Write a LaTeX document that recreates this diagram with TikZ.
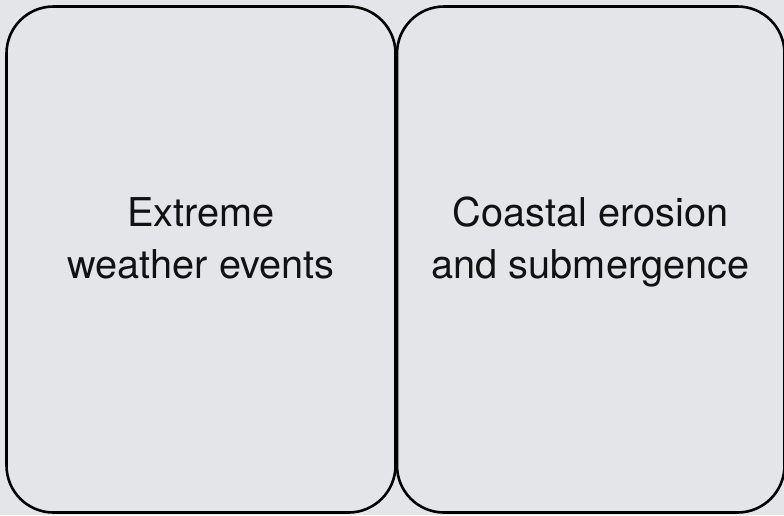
\documentclass[tikz,border=0pt]{standalone}
\usepackage{fontspec}
\setmainfont{TeX Gyre Heros}
\definecolor{bgc}{HTML}{E4E5E9}
\definecolor{txt}{HTML}{111111}
\begin{document}
\begin{tikzpicture}[x=1pt,y=-1pt,
  card/.style={draw=black,line width=2.6pt,rounded corners=47pt},
  lbl/.style={text=txt,align=center,font=\fontsize{39.7}{52}\selectfont,inner sep=0pt}]
\useasboundingbox (0,0) rectangle (784,515);
\clip (0,0) rectangle (784,515);
\fill[bgc] (0,0) rectangle (784,515);
\draw[card] (6.5,6.5) rectangle (395.5,512.5);
\draw[card] (397,6.5) rectangle (784.5,512.5);
\node[lbl,anchor=base] (a) at (201,278) {Extreme\\weather events};
\node[lbl,anchor=base] (b) at (590.5,278) {Coastal erosion\\and submergence};
\end{tikzpicture}
\end{document}
